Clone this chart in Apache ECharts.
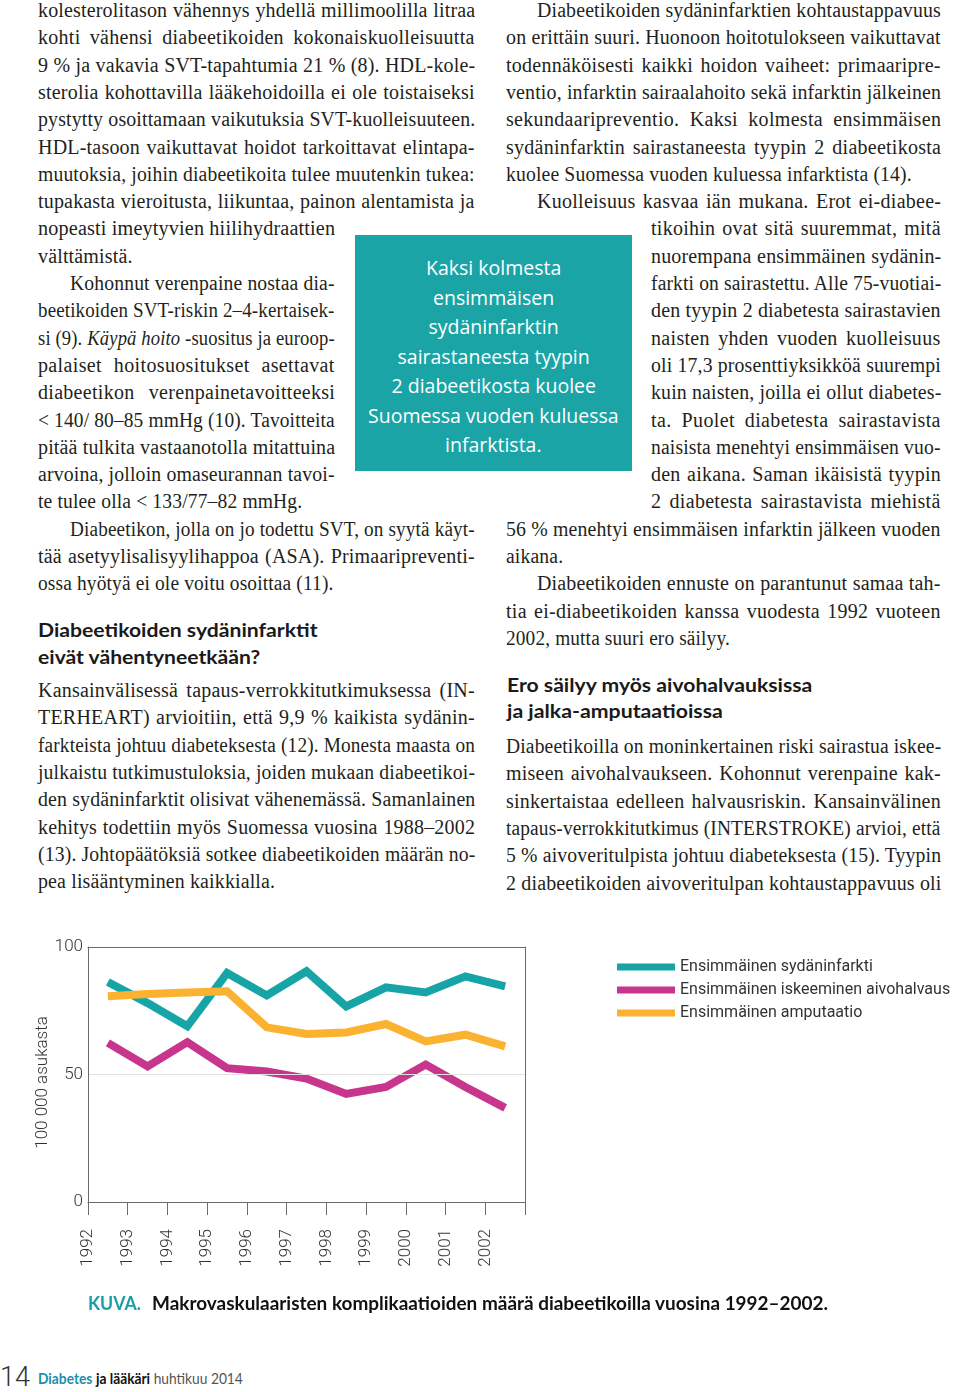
<!DOCTYPE html>
<html>
<head>
<meta charset="utf-8">
<script src="https://cdn.jsdelivr.net/npm/echarts@6/dist/echarts.min.js"></script>
<style>
html,body{margin:0;padding:0;background:#fff;}
body{width:960px;height:1392px;position:relative;overflow:hidden;}
.ln{position:absolute;white-space:nowrap;}
.ln span.t{display:inline-block;transform-origin:0 50%;}
.ln span.m{display:inline-block;width:0;height:0;vertical-align:baseline;}
.serif{font-family:'Liberation Serif',serif;font-size:20px;line-height:27.3px;color:#231f20;letter-spacing:0.15px;}
.head{font-family:Lato,sans-serif;font-weight:700;font-size:19.5px;line-height:27px;color:#1a1a1a;}
.call{font-family:'Open Sans',sans-serif;font-size:19.5px;line-height:29.5px;color:#fff;}
.cap{font-family:Lato,sans-serif;font-weight:700;font-size:18px;line-height:24px;color:#111;}
.foot{font-family:Lato,sans-serif;font-size:14.5px;line-height:20px;color:#555;}
#box{position:absolute;left:355px;top:235px;width:277px;height:236px;background:#1aa4a6;}
#chart{position:absolute;left:0;top:900px;width:960px;height:400px;}
</style>
</head>
<body>
<div id="box"></div>
<div id="chart"></div>
<script>
// ---- chart data ----
const years = ['1992','1993','1994','1995','1996','1997','1998','1999','2000','2001','2002'];
const tickYears = ['1992','1993','1994','1995','1996','1997','1998','1999','2000','2001','2002',''];
const infarction = [86.3, 78, 68.9, 89.8, 81, 90.5, 76.7, 84.2, 82.2, 88.5, 84.6];
const stroke = [62.4, 53.2, 62.7, 52.5, 51.2, 48.4, 42.4, 45.1, 53.9, 45.1, 36.9];
const amputation = [80.7, 81.6, 82.2, 82.6, 68.5, 65.9, 66.5, 69.8, 63, 65.6, 61];
const seriesNames = ['Ensimmäinen sydäninfarkti','Ensimmäinen iskeeminen aivohalvaus','Ensimmäinen amputaatio'];
const yName = '100 000 asukasta';

// ---- page text ----
function addLine(x1, x2, b, html, mode, cls){
  const d = document.createElement('div');
  d.className = 'ln ' + cls;
  d.innerHTML = '<span class="t">' + html + '</span><span class="m"></span>';
  document.body.appendChild(d);
  d.style.top = '0px';
  const t = d.querySelector('.t'), m = d.querySelector('.m');
  const off = m.getBoundingClientRect().top - d.getBoundingClientRect().top;
  d.style.top = (b - off) + 'px';
  let nat = t.offsetWidth;
  const target = x2 - x1;
  if (mode === 'c'){
    d.style.left = (x1 - nat/2) + 'px';
    return;
  }
  d.style.left = x1 + 'px';
  if (mode === 'j'){
    const txt = t.textContent;
    const sp = (txt.match(/ /g) || []).length;
    const chars = txt.length;
    if (nat <= target && sp > 0){
      const extra = target - nat;
      const ls = Math.min(0.5, extra * 0.35 / chars);
      const baseLs = parseFloat(getComputedStyle(t).letterSpacing) || 0;
      t.style.letterSpacing = (baseLs + ls) + 'px';
      nat = t.offsetWidth;
      t.style.wordSpacing = ((target - nat)/sp) + 'px';
    } else {
      t.style.transform = 'scaleX(' + (target/nat) + ')';
    }
  } else if (mode === 'f'){
    const r = target/nat;
    if (r > 0.9 && r < 1.1) t.style.transform = 'scaleX(' + r + ')';
  }
}
const L = [
[38,475,17,"kolesterolitason vähennys yhdellä millimoolilla litraa",'j'],
[38,475,44.3,"kohti vähensi diabeetikoiden kokonaiskuolleisuutta",'j'],
[38,475,71.6,"9 % ja vakavia SVT-tapahtumia 21 % (8). HDL-kole-",'j'],
[38,475,98.9,"sterolia kohottavilla lääkehoidoilla ei ole toistaiseksi",'j'],
[38,475,126.2,"pystytty osoittamaan vaikutuksia SVT-kuolleisuuteen.",'j'],
[38,475,153.5,"HDL-tasoon vaikuttavat hoidot tarkoittavat elintapa-",'j'],
[38,475,180.8,"muutoksia, joihin diabeetikoita tulee muutenkin tukea:",'j'],
[38,475,208.1,"tupakasta vieroitusta, liikuntaa, painon alentamista ja",'j'],
[38,335,235.4,"nopeasti imeytyvien hiilihydraattien",'f'],
[38,134,262.7,"välttämistä.",'n'],
[70,335,290,"Kohonnut verenpaine nostaa dia-",'j'],
[38,335,317.3,"beetikoiden SVT-riskin 2–4-kertaisek-",'j'],
[38,335,344.6,"si (9). <i>Käypä hoito</i> -suositus ja euroop-",'j'],
[38,335,371.9,"palaiset hoitosuositukset asettavat",'j'],
[38,335,399.2,"diabeetikon verenpainetavoitteeksi",'j'],
[38,335,426.5,"&lt; 140/ 80–85 mmHg (10). Tavoitteita",'j'],
[38,335,453.8,"pitää tulkita vastaanotolla mitattuina",'j'],
[38,335,481.1,"arvoina, jolloin omaseurannan tavoi-",'j'],
[38,302,508.4,"te tulee olla &lt; 133/77–82 mmHg.",'f'],
[70,475,535.7,"Diabeetikon, jolla on jo todettu SVT, on syytä käyt-",'j'],
[38,475,563,"tää asetyylisalisyylihappoa (ASA). Primaaripreventi-",'j'],
[38,334,590.3,"ossa hyötyä ei ole voitu osoittaa (11).",'f'],
[38,475,697,"Kansainvälisessä tapaus-verrokkitutkimuksessa (IN-",'j'],
[38,475,724.3,"TERHEART) arvioitiin, että 9,9 % kaikista sydänin-",'j'],
[38,475,751.6,"farkteista johtuu diabeteksesta (12). Monesta maasta on",'j'],
[38,475,778.9,"julkaistu tutkimustuloksia, joiden mukaan diabeetikoi-",'j'],
[38,475,806.2,"den sydäninfarktit olisivat vähenemässä. Samanlainen",'j'],
[38,475,833.5,"kehitys todettiin myös Suomessa vuosina 1988–2002",'j'],
[38,475,860.8,"(13). Johtopäätöksiä sotkee diabeetikoiden määrän no-",'j'],
[38,275,888.1,"pea lisääntyminen kaikkialla.",'f'],
[537,941,17,"Diabeetikoiden sydäninfarktien kohtaustappavuus",'j'],
[506,941,44.3,"on erittäin suuri. Huonoon hoitotulokseen vaikuttavat",'j'],
[506,941,71.6,"todennäköisesti kaikki hoidon vaiheet: primaaripre-",'j'],
[506,941,98.9,"ventio, infarktin sairaalahoito sekä infarktin jälkeinen",'j'],
[506,941,126.2,"sekundaaripreventio. Kaksi kolmesta ensimmäisen",'j'],
[506,941,153.5,"sydäninfarktin sairastaneesta tyypin 2 diabeetikosta",'j'],
[506,912,180.8,"kuolee Suomessa vuoden kuluessa infarktista (14).",'f'],
[537,941,208.1,"Kuolleisuus kasvaa iän mukana. Erot ei-diabee-",'j'],
[651,941,235.4,"tikoihin ovat sitä suuremmat, mitä",'j'],
[651,941,262.7,"nuorempana ensimmäinen sydänin-",'j'],
[651,941,290,"farkti on sairastettu. Alle 75-vuotiai-",'j'],
[651,941,317.3,"den tyypin 2 diabetesta sairastavien",'j'],
[651,941,344.6,"naisten yhden vuoden kuolleisuus",'j'],
[651,941,371.9,"oli 17,3 prosenttiyksikköä suurempi",'j'],
[651,941,399.2,"kuin naisten, joilla ei ollut diabetes-",'j'],
[651,941,426.5,"ta. Puolet diabetesta sairastavista",'j'],
[651,941,453.8,"naisista menehtyi ensimmäisen vuo-",'j'],
[651,941,481.1,"den aikana. Saman ikäisistä tyypin",'j'],
[651,941,508.4,"2 diabetesta sairastavista miehistä",'j'],
[506,941,535.7,"56 % menehtyi ensimmäisen infarktin jälkeen vuoden",'j'],
[506,563,563,"aikana.",'f'],
[537,941,590.3,"Diabeetikoiden ennuste on parantunut samaa tah-",'j'],
[506,941,617.6,"tia ei-diabeetikoiden kanssa vuodesta 1992 vuoteen",'j'],
[506,730,644.9,"2002, mutta suuri ero säilyy.",'f'],
[506,941,753,"Diabeetikoilla on moninkertainen riski sairastua iskee-",'j'],
[506,941,780.3,"miseen aivohalvaukseen. Kohonnut verenpaine kak-",'j'],
[506,941,807.6,"sinkertaistaa edelleen halvausriskin. Kansainvälinen",'j'],
[506,941,834.9,"tapaus-verrokkitutkimus (INTERSTROKE) arvioi, että",'j'],
[506,941,862.2,"5 % aivoveritulpista johtuu diabeteksesta (15). Tyypin",'j'],
[506,941,889.5,"2 diabeetikoiden aivoveritulpan kohtaustappavuus oli",'j']
];
L.forEach(r => addLine(r[0], r[1], r[2], r[3], r[4], 'serif'));
[[38,318,637,"Diabeetikoiden sydäninfarktit"],
 [38,260,663.5,"eivät vähentyneetkään?"],
 [507,812,692,"Ero säilyy myös aivohalvauksissa"],
 [507,723,718,"ja jalka-amputaatioissa"]].forEach(r => addLine(r[0], r[1], r[2], r[3], 'f', 'head'));
["Kaksi kolmesta","ensimmäisen","sydäninfarktin","sairastaneesta tyypin","2 diabeetikosta kuolee","Suomessa vuoden kuluessa","infarktista."]
  .forEach((s,i) => addLine(493.5, 493.5, 275 + 29.5*i, s, 'c', 'call'));
addLine(88, 141, 1310, '<span style="color:#1aa0a4">KUVA.</span>', 'f', 'cap');
addLine(152, 828, 1310, 'Makrovaskulaaristen komplikaatioiden määrä diabeetikoilla vuosina 1992–2002.', 'f', 'cap');
addLine(0, 22, 1386, '<span style="font-family:Roboto;font-weight:300;font-size:27px;color:#333">14</span>', 'f', 'foot');
addLine(38, 243, 1384, '<b style="color:#1a8fb0">Diabetes</b> <b style="color:#111">ja lääkäri</b> huhtikuu 2014', 'f', 'foot');

// ---- chart ----
const chart = echarts.init(document.getElementById('chart'), null, {renderer:'canvas'});
const axisCol = '#6b6b6b';
const labelFont = {fontFamily:'Roboto', fontWeight:300, fontSize:17, color:'#333'};
chart.setOption({
  animation:false,
  grid:{left:88, top:47, width:437, height:255, show:false},
  legend:{
    orient:'vertical', left:612, top:54, icon:'rect', itemWidth:58, itemHeight:7, itemGap:7,
    data:seriesNames,
    textStyle:{fontFamily:'Roboto', fontSize:16, color:'#333', lineHeight:16}
  },
  xAxis:[
    {type:'category', data:years, boundaryGap:true, position:'bottom', z:5,
     axisLine:{show:true, lineStyle:{color:axisCol, width:1}},
     axisTick:{show:true, length:13, lineStyle:{color:axisCol}},
     axisLabel:{show:false}, splitLine:{show:false}},
    {type:'category', data:tickYears, boundaryGap:false, position:'bottom',
     axisLine:{show:false}, axisTick:{show:false}, splitLine:{show:false},
     axisLabel:Object.assign({rotate:90, margin:27, interval:0}, labelFont)},
    {type:'category', data:years, boundaryGap:true, position:'top', z:5,
     axisLine:{show:true, lineStyle:{color:axisCol, width:1}},
     axisTick:{show:false}, axisLabel:{show:false}, splitLine:{show:false}}
  ],
  yAxis:[
    {type:'value', min:0, max:100, interval:50, position:'left', z:5,
     name:yName, nameLocation:'middle', nameGap:33,
     nameTextStyle:{fontFamily:'Roboto', fontWeight:300, fontSize:17, color:'#333', padding:[0,16,0,0]},
     axisLine:{show:true, lineStyle:{color:axisCol, width:1}},
     axisTick:{show:false},
     axisLabel:Object.assign({margin:5}, labelFont),
     splitLine:{show:true, lineStyle:{color:'#e2e2e2', width:1}}},
    {type:'value', min:0, max:100, interval:50, position:'right', z:5,
     axisLine:{show:true, lineStyle:{color:axisCol, width:1}},
     axisTick:{show:false}, axisLabel:{show:false}, splitLine:{show:false}}
  ],
  series:[
    {name:seriesNames[0], type:'line', data:infarction, xAxisIndex:0, yAxisIndex:0, showSymbol:false, symbol:'none',
     color:'#17a4a7', lineStyle:{width:8, color:'#17a4a7', join:'miter'}},
    {name:seriesNames[1], type:'line', data:stroke, xAxisIndex:0, yAxisIndex:0, showSymbol:false, symbol:'none',
     color:'#c7358c', lineStyle:{width:8, color:'#c7358c', join:'miter'}},
    {name:seriesNames[2], type:'line', data:amputation, xAxisIndex:0, yAxisIndex:0, showSymbol:false, symbol:'none',
     color:'#fbb231', lineStyle:{width:8, color:'#fbb231', join:'miter'}}
  ]
});
</script>
</body>
</html>
